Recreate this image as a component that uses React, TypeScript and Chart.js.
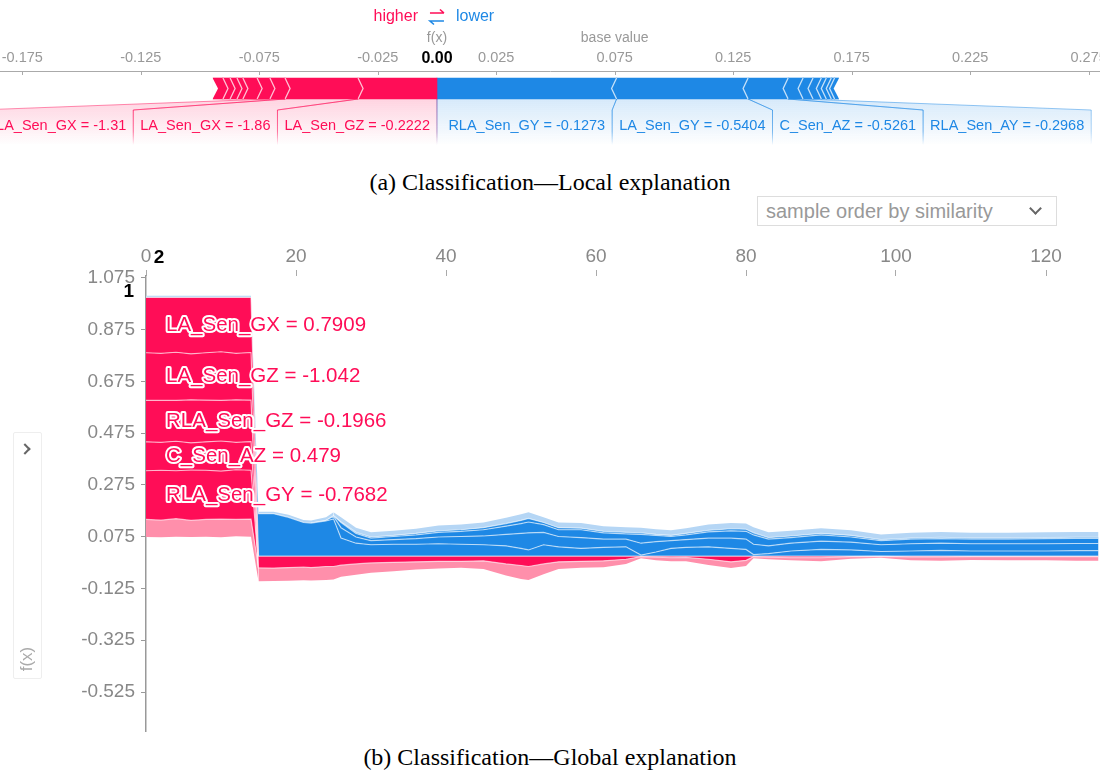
import React, { useEffect, useRef } from 'react';
import { Chart, registerables } from 'chart.js';

Chart.register(...registerables);

const RED = '#ff0d57';
const BLUE = '#1e88e5';
const PINK = '#ff8fab';
const LIGHT_BLUE = '#b5d6f5';
const SANS = '"Liberation Sans", Arial, sans-serif';

// ---------------- (a) local explanation ----------------
const forceTicks = [-0.175, -0.125, -0.075, -0.025, 0.025, 0.075, 0.125, 0.175, 0.225, 0.275];
const outputValue = 0.0;
const higherNames = ['LA_Sen_GZ = -0.2222', 'LA_Sen_GX = -1.86', 'RLA_Sen_GX = -1.31', '', '', '', '', '', ''];
const higherEffects = [0.0333, 0.0308, 0.0064, 0.0054, 0.006, 0.0025, 0.0029, 0.003, 0.0042];
const lowerNames = ['RLA_Sen_GY = -0.1273', 'LA_Sen_GY = -0.5404', 'C_Sen_AZ = -0.5261', 'RLA_Sen_AY = -0.2968', '', '', '', '', '', ''];
const lowerEffects = [0.0758, 0.0555, 0.0169, 0.0063, 0.0042, 0.0035, 0.0021, 0.0021, 0.0014, 0.0017];

// ---------------- (b) global explanation ----------------
const xTicks = [0, 20, 40, 60, 80, 100, 120];
const yTicks = [-0.525, -0.325, -0.125, 0.075, 0.275, 0.475, 0.675, 0.875, 1.075];
const hoverSample = 2;
const sampleIdx = [0, 2, 4, 6, 8, 10, 12, 14, 15, 17, 19, 21, 22, 24, 25, 26, 28, 30, 33, 36, 39, 42, 45, 48, 50, 51, 53, 55, 58, 61, 64, 66, 68, 70, 72, 75, 78, 80, 81, 83, 86, 90, 94, 98, 102, 106, 110, 115, 120, 124, 127];
const outputValues = [1, 1, 1, 1, 1, 1, 1, 1, 0, 0, 0, 0, 0, 0, 0, 0, 0, 0, 0, 0, 0, 0, 0, 0, 0, 0, 0, 0, 0, 0, 0, 0, 0, 0, 0, 0, 0, 0, 0, 0, 0, 0, 0, 0, 0, 0, 0, 0, 0, 0, 0];
const globalLabels = ['LA_Sen_GX = 0.7909', 'LA_Sen_GZ = -1.042', 'RLA_Sen_GZ = -0.1966', 'C_Sen_AZ = 0.479', 'RLA_Sen_GY = -0.7682'];

const posGX = [0.214, 0.216, 0.212, 0.218, 0.214, 0.21, 0.216, 0.213,
  0.045, 0.046, 0.044, 0.042, 0.044, 0.04, 0.04, 0.035, 0.03, 0.026,
  0.024, 0.022, 0.02, 0.02, 0.018, 0.03, 0.036, 0.04, 0.03, 0.022,
  0.02, 0.018, 0.012, 0.002, 0.004, 0.006, 0.005, 0.012, 0.022, 0.016,
  0.002, 0.004, 0.006, 0.006, 0.002, 0.001, 0.003, 0.003, 0.002, 0.002,
  0.002, 0.002, 0.002];
const posGZ = [0.184, 0.182, 0.186, 0.178, 0.183, 0.188, 0.18, 0.184,
  0, 0, 0, 0, 0, 0, 0, 0, 0, 0, 0, 0, 0, 0, 0, 0, 0, 0, 0, 0, 0, 0, 0, 0, 0, 0, 0, 0, 0, 0, 0, 0, 0, 0, 0, 0, 0, 0, 0, 0, 0, 0, 0];
const posRGZ = [0.16, 0.162, 0.158, 0.166, 0.161, 0.157, 0.164, 0.16,
  0, 0, 0, 0, 0, 0, 0, 0, 0, 0, 0, 0, 0, 0, 0, 0, 0, 0, 0, 0, 0, 0, 0, 0, 0, 0, 0, 0, 0, 0, 0, 0, 0, 0, 0, 0, 0, 0, 0, 0, 0, 0, 0];
const posCAZ = [0.112, 0.108, 0.114, 0.105, 0.11, 0.116, 0.106, 0.111,
  0, 0, 0, 0, 0, 0, 0, 0, 0, 0, 0, 0, 0, 0, 0, 0, 0, 0, 0, 0, 0, 0, 0, 0, 0, 0, 0, 0, 0, 0, 0, 0, 0, 0, 0, 0, 0, 0, 0, 0, 0, 0, 0];
const posRGY = [0.188, 0.193, 0.185, 0.195, 0.19, 0.186, 0.192, 0.189,
  0, 0, 0, 0, 0, 0, 0, 0, 0, 0, 0, 0, 0, 0, 0, 0, 0, 0, 0, 0, 0, 0, 0, 0, 0, 0, 0, 0, 0, 0, 0, 0, 0, 0, 0, 0, 0, 0, 0, 0, 0, 0, 0];
const posRest = [0.068, 0.066, 0.07, 0.064, 0.067, 0.07, 0.065, 0.068,
  0.052, 0.05, 0.051, 0.051, 0.05, 0.052, 0.05, 0.045, 0.042, 0.038,
  0.034, 0.03, 0.028, 0.025, 0.032, 0.045, 0.052, 0.052, 0.04, 0.028,
  0.025, 0.025, 0.018, 0.006, 0.012, 0.014, 0.015, 0.022, 0.024, 0.022,
  0.006, 0.008, 0.01, 0.014, 0.008, 0.005, 0.013, 0.015, 0.013, 0.014,
  0.014, 0.016, 0.016];

const neg1 = [0, 0, 0, 0, 0, 0, 0, 0,
  0.164, 0.164, 0.15, 0.13, 0.128, 0.136, 0.144, 0.07, 0.05, 0.044,
  0.046, 0.046, 0.048, 0.046, 0.044, 0.04, 0.03, 0.024, 0.044, 0.036,
  0.03, 0.034, 0.036, 0.004, 0.016, 0.03, 0.034, 0.036, 0.03, 0.026,
  0.006, 0.01, 0.02, 0.026, 0.024, 0.018, 0.02, 0.022, 0.02, 0.02,
  0.02, 0.021, 0.021];
const neg2 = [0, 0, 0, 0, 0, 0, 0, 0,
  0, 0, 0, 0, 0, 0.002, 0.01, 0.04, 0.024, 0.016,
  0.018, 0.022, 0.026, 0.03, 0.034, 0.044, 0.058, 0.066, 0.048, 0.04,
  0.042, 0.032, 0.03, 0.046, 0.04, 0.03, 0.03, 0.034, 0.04, 0.04,
  0.04, 0.03, 0.03, 0.032, 0.03, 0.026, 0.028, 0.028, 0.028, 0.028,
  0.028, 0.028, 0.028];
const neg3 = [0, 0, 0, 0, 0, 0, 0, 0,
  0, 0, 0, 0, 0, 0, 0.002, 0.02, 0.014, 0.01,
  0.012, 0.014, 0.018, 0.02, 0.024, 0.032, 0.038, 0.042, 0.03, 0.026,
  0.03, 0.024, 0.02, 0.034, 0.024, 0.016, 0.018, 0.024, 0.028, 0.03,
  0.036, 0.026, 0.022, 0.024, 0.02, 0.016, 0.018, 0.018, 0.018, 0.018,
  0.02, 0.02, 0.02];
const neg4 = [0, 0, 0, 0, 0, 0, 0, 0,
  0, 0, 0, 0, 0, 0, 0, 0.002, 0.004, 0.004,
  0.004, 0.006, 0.006, 0.006, 0.008, 0.01, 0.012, 0.014, 0.008, 0.008,
  0.006, 0.006, 0.006, 0.006, 0.004, 0.004, 0.006, 0.006, 0.008, 0.008,
  0.008, 0.006, 0.006, 0.006, 0.006, 0.004, 0.004, 0.005, 0.004, 0.004,
  0.004, 0.004, 0.004];
const negRest = [0.006, 0.006, 0.006, 0.006, 0.006, 0.006, 0.006, 0.006,
  0.008, 0.008, 0.01, 0.01, 0.01, 0.012, 0.014, 0.018, 0.018, 0.018,
  0.018, 0.018, 0.02, 0.02, 0.02, 0.022, 0.024, 0.024, 0.02, 0.02,
  0.02, 0.02, 0.02, 0.02, 0.02, 0.02, 0.02, 0.022, 0.022, 0.022,
  0.022, 0.02, 0.02, 0.02, 0.02, 0.02, 0.02, 0.02, 0.02, 0.02,
  0.02, 0.02, 0.02];

function rgba(hex: string, a: number) {
  const n = parseInt(hex.slice(1), 16);
  return `rgba(${(n >> 16) & 255},${(n >> 8) & 255},${n & 255},${a})`;
}

function ForcePlot() {
  const ref = useRef<HTMLCanvasElement>(null);
  useEffect(() => {
    const canvas = ref.current!;
    type Seg = { from: number; to: number; color: string; name: string; hi: boolean };
    const segs: Seg[] = [];
    let acc = outputValue;
    higherEffects.forEach((e, i) => {
      segs.push({ from: acc - e, to: acc, color: RED, name: higherNames[i], hi: true });
      acc -= e;
    });
    acc = outputValue;
    lowerEffects.forEach((e, i) => {
      segs.push({ from: acc, to: acc + e, color: BLUE, name: lowerNames[i], hi: false });
      acc += e;
    });
    const baseValue = outputValue + lowerEffects.reduce((a, b) => a + b, 0) - higherEffects.reduce((a, b) => a + b, 0);

    const overlay = {
      id: 'forceOverlay',
      afterDatasetsDraw(chart: any) {
        const ctx = chart.ctx as CanvasRenderingContext2D;
        const xs = chart.scales.x;
        const el = chart.getDatasetMeta(0).data[0] as any;
        const p = el.getProps(['y', 'height'], true);
        const top = p.y - p.height / 2;
        const bottom = p.y + p.height / 2;
        const mid = p.y;
        const tip = 5;
        const fxPx = xs.getPixelForValue(outputValue);
        ctx.save();
        const his = segs.filter((s) => s.hi);
        const los = segs.filter((s) => !s.hi);
        ctx.strokeStyle = 'rgba(255,255,255,0.75)';
        ctx.lineWidth = 1.3;
        his.forEach((s, i) => {
          const px = xs.getPixelForValue(s.from);
          if (i < his.length - 1) {
            ctx.beginPath();
            ctx.moveTo(px, top);
            ctx.lineTo(px + tip, mid);
            ctx.lineTo(px, bottom);
            ctx.stroke();
          } else {
            ctx.save();
            ctx.globalCompositeOperation = 'destination-out';
            ctx.beginPath();
            ctx.moveTo(px - 1, top - 1);
            ctx.lineTo(px + tip, mid);
            ctx.lineTo(px - 1, bottom + 1);
            ctx.closePath();
            ctx.fill();
            ctx.restore();
          }
        });
        los.forEach((s, i) => {
          const px = xs.getPixelForValue(s.to);
          if (i < los.length - 1) {
            ctx.beginPath();
            ctx.moveTo(px, top);
            ctx.lineTo(px - tip, mid);
            ctx.lineTo(px, bottom);
            ctx.stroke();
          } else {
            ctx.save();
            ctx.globalCompositeOperation = 'destination-out';
            ctx.beginPath();
            ctx.moveTo(px + 1, top - 1);
            ctx.lineTo(px - tip, mid);
            ctx.lineTo(px + 1, bottom + 1);
            ctx.closePath();
            ctx.fill();
            ctx.restore();
          }
        });

        // labels & connectors
        const labelTop = bottom + 11;
        const labelBottom = bottom + 46;
        const labelY = bottom + 27;
        const pad = 7;
        ctx.font = `14.5px ${SANS}`;
        ctx.textBaseline = 'middle';
        const drawConnector = (segL: number, segR: number, sepL: number, sepR: number, color: string) => {
          const g = ctx.createLinearGradient(0, bottom, 0, labelBottom);
          g.addColorStop(0, rgba(color, 0.18));
          g.addColorStop(1, rgba(color, 0));
          ctx.fillStyle = g;
          ctx.beginPath();
          ctx.moveTo(segL, bottom);
          ctx.lineTo(segR, bottom);
          ctx.lineTo(sepR, labelTop);
          ctx.lineTo(sepR, labelBottom);
          ctx.lineTo(sepL, labelBottom);
          ctx.lineTo(sepL, labelTop);
          ctx.closePath();
          ctx.fill();
          const lg = ctx.createLinearGradient(0, bottom, 0, labelBottom);
          lg.addColorStop(0, rgba(color, 0.5));
          lg.addColorStop(0.7, rgba(color, 0.35));
          lg.addColorStop(1, rgba(color, 0));
          ctx.strokeStyle = lg;
          ctx.lineWidth = 1;
          ctx.beginPath();
          ctx.moveTo(segL, bottom);
          ctx.lineTo(sepL, labelTop);
          ctx.lineTo(sepL, labelBottom);
          ctx.moveTo(segR, bottom);
          ctx.lineTo(sepR, labelTop);
          ctx.lineTo(sepR, labelBottom);
          ctx.stroke();
        };
        let rightSep = fxPx;
        his.filter((s) => s.name).forEach((s) => {
          const w = ctx.measureText(s.name).width;
          const segL = xs.getPixelForValue(s.from);
          const segR = xs.getPixelForValue(s.to);
          const c = (segL + segR) / 2;
          const textEnd = Math.min(c + w / 2, rightSep - pad);
          const textStart = textEnd - w;
          const leftSep = textStart - pad;
          drawConnector(segL, segR, leftSep, rightSep, RED);
          ctx.fillStyle = RED;
          ctx.textAlign = 'left';
          ctx.fillText(s.name, textStart, labelY);
          rightSep = leftSep;
        });
        let leftSep = fxPx;
        los.filter((s) => s.name).forEach((s) => {
          const w = ctx.measureText(s.name).width;
          const segL = xs.getPixelForValue(s.from);
          const segR = xs.getPixelForValue(s.to);
          const c = (segL + segR) / 2;
          const textStart = Math.max(c - w / 2, leftSep + pad);
          const rSep = textStart + w + pad;
          drawConnector(segL, segR, leftSep, rSep, BLUE);
          ctx.fillStyle = BLUE;
          ctx.textAlign = 'left';
          ctx.fillText(s.name, textStart, labelY);
          leftSep = rSep;
        });

        // axis tick marks
        const axisY = chart.chartArea.top;
        ctx.strokeStyle = '#aaa';
        ctx.lineWidth = 1;
        forceTicks.forEach((v) => {
          const px = Math.round(xs.getPixelForValue(v)) + 0.5;
          ctx.beginPath();
          ctx.moveTo(px, axisY);
          ctx.lineTo(px, axisY + 4);
          ctx.stroke();
        });

        // header texts
        ctx.textAlign = 'center';
        ctx.fillStyle = '#999';
        ctx.font = `14px ${SANS}`;
        ctx.fillText('f(x)', fxPx, 38);
        ctx.fillText('base value', xs.getPixelForValue(baseValue), 38);
        ctx.fillStyle = '#000';
        ctx.font = `bold 16px ${SANS}`;
        ctx.fillText(outputValue.toFixed(2), fxPx, 59);
        ctx.font = `16px ${SANS}`;
        ctx.textAlign = 'right';
        ctx.fillStyle = RED;
        ctx.fillText('higher', fxPx - 19, 17);
        ctx.textAlign = 'left';
        ctx.fillStyle = BLUE;
        ctx.fillText('lower', fxPx + 19, 17);
        ctx.lineWidth = 1.6;
        ctx.strokeStyle = RED;
        ctx.beginPath();
        ctx.moveTo(fxPx - 7, 13);
        ctx.lineTo(fxPx + 7, 13);
        ctx.moveTo(fxPx + 3, 9.5);
        ctx.lineTo(fxPx + 7, 13);
        ctx.stroke();
        ctx.strokeStyle = BLUE;
        ctx.beginPath();
        ctx.moveTo(fxPx + 7, 21);
        ctx.lineTo(fxPx - 7, 21);
        ctx.lineTo(fxPx - 3, 24.5);
        ctx.stroke();
        ctx.restore();
      },
    };

    const chart = new Chart(canvas, {
      type: 'bar',
      data: {
        labels: ['f'],
        datasets: segs.map((s) => ({
          data: [[s.from, s.to]] as any,
          backgroundColor: s.color,
          borderWidth: 0,
          barThickness: 21,
          grouped: false,
        })),
      },
      options: {
        indexAxis: 'y',
        animation: false,
        responsive: false,
        events: [],
        layout: { padding: { left: 0, right: 0, top: 0, bottom: 44 } },
        plugins: { legend: { display: false }, tooltip: { enabled: false } },
        scales: {
          x: {
            type: 'linear',
            position: 'top',
            min: -0.1844,
            max: 0.2798,
            afterBuildTicks: (s: any) => {
              s.ticks = forceTicks.map((v) => ({ value: v }));
            },
            afterFit: (s: any) => {
              s.height = 71;
              s.paddingLeft = 0;
              s.paddingRight = 0;
            },
            grid: { display: true, drawOnChartArea: false, drawTicks: false },
            border: { display: true, color: '#aaa', width: 1 },
            ticks: {
              color: '#999',
              font: { size: 14.5, family: SANS },
              padding: 4,
              maxRotation: 0,
              autoSkip: false,
              callback: (v: any) => Number(v).toFixed(3),
            },
          },
          y: { display: false },
        },
      },
      plugins: [overlay],
    } as any);
    return () => chart.destroy();
  }, []);
  return (
    <canvas
      ref={ref}
      width={1100}
      height={150}
      style={{ position: 'absolute', left: 0, top: 0, width: 1100, height: 150 }}
    />
  );
}

function GlobalPlot() {
  const ref = useRef<HTMLCanvasElement>(null);
  useEffect(() => {
    const canvas = ref.current!;
    const posLayers = [posGX, posGZ, posRGZ, posCAZ, posRGY, posRest];
    const posColors = [RED, RED, RED, RED, RED, PINK];
    const negLayers = [neg1, neg2, neg3, neg4, negRest];
    const negColors = [BLUE, BLUE, BLUE, BLUE, LIGHT_BLUE];
    const lineCol = 'rgba(255,255,255,0.6)';
    const pts = (vals: number[]) => sampleIdx.map((x, i) => ({ x, y: vals[i] }));
    const ds: any[] = [];
    ds.push({ data: pts(outputValues), borderColor: lineCol, borderWidth: 1.2, fill: false, pointRadius: 0 });
    let cum = outputValues.slice();
    posLayers.forEach((layer, k) => {
      cum = cum.map((v, i) => v - layer[i]);
      const last = k === posLayers.length - 1;
      ds.push({
        data: pts(cum),
        backgroundColor: posColors[k],
        borderColor: lineCol,
        borderWidth: last ? 0 : 1.2,
        fill: '-1',
        pointRadius: 0,
        segment: {
          borderColor: (c: any) =>
            layer[c.p0DataIndex] < 1e-4 && layer[c.p1DataIndex] < 1e-4 ? 'rgba(0,0,0,0)' : lineCol,
        },
      });
    });
    ds.push({ data: pts(outputValues), borderWidth: 0, fill: false, pointRadius: 0 });
    cum = outputValues.slice();
    negLayers.forEach((layer, k) => {
      cum = cum.map((v, i) => v + layer[i]);
      const last = k === negLayers.length - 1;
      ds.push({
        data: pts(cum),
        backgroundColor: negColors[k],
        borderColor: lineCol,
        borderWidth: last ? 0 : 1.2,
        fill: '-1',
        pointRadius: 0,
        segment: {
          borderColor: (c: any) =>
            layer[c.p0DataIndex] < 1e-4 && layer[c.p1DataIndex] < 1e-4 ? 'rgba(0,0,0,0)' : lineCol,
        },
      });
    });

    const overlay = {
      id: 'globalOverlay',
      afterDatasetsDraw(chart: any) {
        const ctx = chart.ctx as CanvasRenderingContext2D;
        const { x, y } = chart.scales;
        const i = sampleIdx.indexOf(hoverSample);
        let top = outputValues[i];
        ctx.save();
        ctx.font = `20.5px ${SANS}`;
        ctx.textBaseline = 'middle';
        ctx.textAlign = 'left';
        ctx.lineJoin = 'round';
        globalLabels.forEach((t, k) => {
          const layer = posLayers[k];
          const midV = top - layer[i] / 2;
          top -= layer[i];
          const px = x.getPixelForValue(sampleIdx[i]) + 5;
          const py = y.getPixelForValue(midV);
          ctx.strokeStyle = '#fff';
          ctx.lineWidth = 4;
          ctx.strokeText(t, px, py);
          ctx.fillStyle = RED;
          ctx.fillText(t, px, py);
        });
        ctx.fillStyle = '#000';
        ctx.font = `bold 19px ${SANS}`;
        ctx.textAlign = 'center';
        ctx.fillText(String(hoverSample), x.getPixelForValue(hoverSample) - 2, chart.chartArea.top - 18);
        ctx.textAlign = 'right';
        ctx.fillText(String(outputValues[i]), chart.chartArea.left - 12, y.getPixelForValue(outputValues[i]) - 6);
        ctx.restore();
      },
    };

    const chart = new Chart(canvas, {
      type: 'line',
      data: { datasets: ds },
      options: {
        animation: false,
        responsive: false,
        events: [],
        layout: { padding: { left: 0, right: 0, top: 0, bottom: 9 } },
        plugins: { legend: { display: false }, tooltip: { enabled: false } },
        elements: { line: { tension: 0 } },
        scales: {
          x: {
            type: 'linear',
            position: 'top',
            min: 0,
            max: 127.2,
            afterBuildTicks: (s: any) => {
              s.ticks = xTicks.map((v) => ({ value: v }));
            },
            afterFit: (s: any) => {
              s.height = 46;
              s.paddingLeft = 0;
              s.paddingRight = 0;
            },
            grid: { drawOnChartArea: false, drawTicks: true, tickLength: 6, color: '#aaa' },
            border: { display: false },
            ticks: { color: '#888', font: { size: 19, family: SANS }, padding: 2, maxRotation: 0, autoSkip: false },
          },
          y: {
            type: 'linear',
            min: -0.6757,
            max: 1.0827,
            afterBuildTicks: (s: any) => {
              s.ticks = yTicks.map((v) => ({ value: v }));
            },
            afterFit: (s: any) => {
              s.width = 146;
              s.paddingTop = 0;
              s.paddingBottom = 0;
            },
            grid: { drawOnChartArea: false, drawTicks: true, tickLength: 5, color: '#999' },
            border: { display: true, color: '#999', width: 1.5 },
            ticks: {
              color: '#888',
              font: { size: 19, family: SANS },
              padding: 6,
              autoSkip: false,
              callback: (v: any) => Number(v).toFixed(3),
            },
          },
        },
      },
      plugins: [overlay],
    } as any);
    return () => chart.destroy();
  }, []);
  return (
    <canvas
      ref={ref}
      width={1100}
      height={510}
      style={{ position: 'absolute', left: 0, top: 230, width: 1100, height: 510 }}
    />
  );
}

export default function App() {
  return (
    <div
      style={{
        position: 'absolute',
        left: 0,
        top: 0,
        width: 1100,
        height: 770,
        overflow: 'hidden',
        background: '#fff',
      }}
    >
      <ForcePlot />
      <div
        style={{
          position: 'absolute',
          left: 0,
          width: 1100,
          top: 169,
          textAlign: 'center',
          fontFamily: '"Liberation Serif", "Times New Roman", serif',
          fontSize: 24,
          color: '#000',
        }}
      >
        (a) Classification—Local explanation
      </div>
      <div
        style={{
          position: 'absolute',
          left: 757,
          top: 196,
          width: 290,
          height: 28,
          border: '1px solid #ddd',
          fontFamily: SANS,
          fontSize: 20,
          color: '#999',
          lineHeight: '28px',
          paddingLeft: 8,
          boxSizing: 'content-box',
        }}
      >
        sample order by similarity
        <div
          style={{
            position: 'absolute',
            right: 16,
            top: 7,
            width: 7,
            height: 7,
            borderRight: '2.5px solid #666',
            borderBottom: '2.5px solid #666',
            transform: 'rotate(45deg)',
          }}
        />
      </div>
      <GlobalPlot />
      <div
        style={{
          position: 'absolute',
          left: 13,
          top: 432,
          width: 27,
          height: 245,
          border: '1px solid #eee',
          borderRadius: 2,
        }}
      >
        <div
          style={{
            position: 'absolute',
            left: 7,
            top: 12,
            width: 6,
            height: 6,
            borderRight: '2px solid #666',
            borderTop: '2px solid #666',
            transform: 'rotate(45deg)',
          }}
        />
        <div
          style={{
            position: 'absolute',
            left: -7,
            top: 216,
            width: 40,
            textAlign: 'center',
            transform: 'rotate(-90deg)',
            fontFamily: SANS,
            fontSize: 17,
            color: '#aaa',
          }}
        >
          f(x)
        </div>
      </div>
      <div
        style={{
          position: 'absolute',
          left: 0,
          width: 1100,
          top: 744,
          textAlign: 'center',
          fontFamily: '"Liberation Serif", "Times New Roman", serif',
          fontSize: 24,
          color: '#000',
        }}
      >
        (b) Classification—Global explanation
      </div>
    </div>
  );
}
